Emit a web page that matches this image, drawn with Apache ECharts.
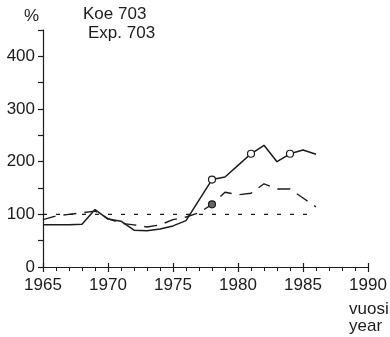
<!DOCTYPE html>
<html>
<head>
<meta charset="utf-8">
<script src="https://cdn.jsdelivr.net/npm/echarts@6/dist/echarts.min.js"></script>
<style>
html,body{margin:0;padding:0;background:#fff;}
#c{width:390px;height:337px;}
</style>
</head>
<body>
<div id="c"></div>
<script>
var years = [1965,1966,1967,1968,1969,1970,1971,1972,1973,1974,1975,1976,1977,1978,1979,1980,1981,1982,1983,1984,1985,1986];
var solidValues = [80,80,80,81,109,91,87,70,69,72,78,88,127,166,171,193,215,231,200,215,222,214];
var dashedValues = [90,97,100,103,106,92,83,80,76,80,90,95,103,119,142,137,140,158,148,148,131,114];
var referenceValues = [100,100,100,100,100,100,100,100,100,100,100,100,100,100,100,100,100,100,100,100,100,100];
var solidMarkedYears = [1978,1981,1984];
var dashedMarkedYears = [1978];
var yTickLabels = [0,100,200,300,400];
var xTickLabels = [1965,1970,1975,1980,1985,1990];
var unitLabel = '%';
var titleLines = ['Koe 703','Exp. 703'];
var xNameLines = ['vuosi','year'];

var FONT = '"Liberation Sans", Arial, Helvetica, sans-serif';
var INK = '#1c1c1c';

function pairs(vals, marked, fill) {
  return years.map(function (y, i) {
    var m = marked.indexOf(y) >= 0;
    return {
      value: [y, vals[i]],
      symbol: m ? 'circle' : 'none',
      symbolSize: 7,
      itemStyle: {color: fill, borderColor: INK, borderWidth: 1.2}
    };
  });
}

var chart = echarts.init(document.getElementById('c'), null, {renderer: 'canvas'});
chart.setOption({
  animation: false,
  backgroundColor: '#fff',
  grid: {left: 43, right: 22, top: 30, bottom: 70, containLabel: false},
  xAxis: [{
    type: 'value', min: 1965, max: 1990, interval: 5,
    axisLine: {show: true, lineStyle: {color: INK, width: 1.2}},
    axisTick: {show: true, inside: false, length: 5, lineStyle: {color: INK, width: 1.2}},
    minorTick: {show: true, splitNumber: 5, length: 4, lineStyle: {color: INK, width: 1}},
    splitLine: {show: false},
    axisLabel: {
      margin: 10, color: INK, fontFamily: FONT, fontSize: 17,
      formatter: function (v) { return xTickLabels.indexOf(v) >= 0 ? String(v) : ''; }
    }
  }, {
    type: 'value', min: 1965, max: 1990, interval: 5, position: 'bottom',
    axisLine: {show: false},
    axisTick: {show: true, inside: true, length: 4, lineStyle: {color: INK, width: 1.2}},
    axisLabel: {show: false}, splitLine: {show: false}
  }],
  yAxis: {
    type: 'value', min: 0, max: 450, interval: 50,
    axisLine: {show: true, lineStyle: {color: INK, width: 1.2}},
    axisTick: {show: true, length: 5, lineStyle: {color: INK, width: 1.2}},
    splitLine: {show: false},
    axisLabel: {
      margin: 8, color: INK, fontFamily: FONT, fontSize: 17,
      formatter: function (v) { return yTickLabels.indexOf(v) >= 0 ? String(v) : ''; }
    }
  },
  series: [{
    type: 'line', data: referenceValues.map(function (v, i) { return [years[i], v]; }),
    symbol: 'none', lineStyle: {color: INK, width: 1.2, type: [4, 9]}, z: 1
  }, {
    type: 'line', data: pairs(dashedValues, dashedMarkedYears, '#666'),
    lineStyle: {color: INK, width: 1.4, type: [13, 8]}, z: 2
  }, {
    type: 'line', data: pairs(solidValues, solidMarkedYears, '#fff'),
    lineStyle: {color: INK, width: 1.5}, z: 3
  }],
  graphic: [
    {type: 'text', left: 24, top: 8, style: {text: unitLabel, font: '17px ' + FONT, fill: INK}},
    {type: 'text', left: 83, top: 6, style: {text: titleLines[0], font: '17px ' + FONT, fill: INK}},
    {type: 'text', left: 88, top: 25, style: {text: titleLines[1], font: '17px ' + FONT, fill: INK}},
    {type: 'text', left: 349, top: 301, style: {text: xNameLines[0], font: '17px ' + FONT, fill: INK}},
    {type: 'text', left: 349, top: 318, style: {text: xNameLines[1], font: '17px ' + FONT, fill: INK}}
  ]
});
</script>
</body>
</html>
